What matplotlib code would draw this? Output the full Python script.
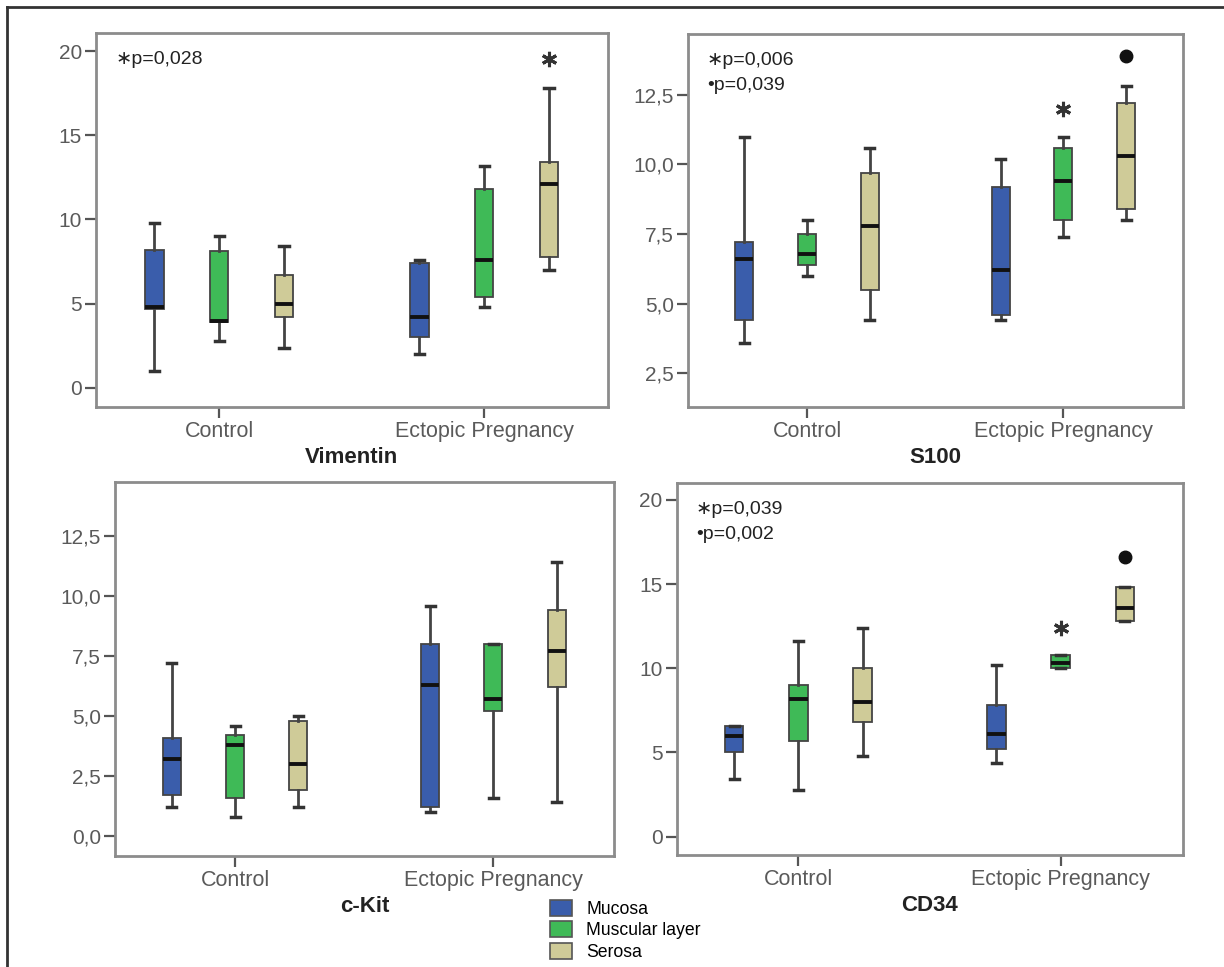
import matplotlib
matplotlib.use("Agg")
import matplotlib.pyplot as plt
from matplotlib.patches import Patch
from matplotlib.lines import Line2D

plt.rcParams['font.family'] = ['Liberation Sans', 'DejaVu Sans']

# ----------------------------
# Data
# order: Control (mucosa, muscular, serosa), Ectopic (mucosa, muscular, serosa)
# ----------------------------
groups = ["Control", "Ectopic Pregnancy"]
layers = ["Mucosa", "Muscular layer", "Serosa"]
layer_colors = ["#3a5dab", "#3fba57", "#cfcb98"]

vim_lo = [1.0, 2.8, 2.4, 2.0, 4.8, 7.0]
vim_q1 = [4.7, 3.9, 4.2, 3.0, 5.4, 7.8]
vim_med = [4.8, 4.0, 5.0, 4.2, 7.6, 12.1]
vim_q3 = [8.2, 8.1, 6.7, 7.4, 11.8, 13.4]
vim_hi = [9.8, 9.0, 8.4, 7.6, 13.2, 17.8]

s100_lo = [3.6, 6.0, 4.4, 4.4, 7.4, 8.0]
s100_q1 = [4.4, 6.4, 5.5, 4.6, 8.0, 8.4]
s100_med = [6.6, 6.8, 7.8, 6.2, 9.4, 10.3]
s100_q3 = [7.2, 7.5, 9.7, 9.2, 10.6, 12.2]
s100_hi = [11.0, 8.0, 10.6, 10.2, 11.0, 12.8]

ckit_lo = [1.2, 0.8, 1.2, 1.0, 1.6, 1.4]
ckit_q1 = [1.7, 1.6, 1.9, 1.2, 5.2, 6.2]
ckit_med = [3.2, 3.8, 3.0, 6.3, 5.7, 7.7]
ckit_q3 = [4.1, 4.2, 4.8, 8.0, 8.0, 9.4]
ckit_hi = [7.2, 4.6, 5.0, 9.6, 8.0, 11.4]

cd34_lo = [3.4, 2.8, 4.8, 4.4, 10.0, 12.8]
cd34_q1 = [5.0, 5.7, 6.8, 5.2, 10.0, 12.8]
cd34_med = [6.0, 8.2, 8.0, 6.1, 10.3, 13.6]
cd34_q3 = [6.6, 9.0, 10.0, 7.8, 10.8, 14.8]
cd34_hi = [6.6, 11.6, 12.4, 10.2, 10.8, 14.8]

# significance marks: (box index, y value)
vim_star = [(5, 19.5)]
vim_dot = []
s100_star = [(4, 12.0)]
s100_dot = [(5, 13.9)]
ckit_star = []
ckit_dot = []
cd34_star = [(4, 12.4)]
cd34_dot = [(5, 16.6)]

vim_ptext = ["\u2217p=0,028"]
s100_ptext = ["\u2217p=0,006", "\u2022p=0,039"]
ckit_ptext = []
cd34_ptext = ["\u2217p=0,039", "\u2022p=0,002"]

vim_ticks = [0, 5, 10, 15, 20]
vim_ticklabels = ["0", "5", "10", "15", "20"]
s100_ticks = [2.5, 5.0, 7.5, 10.0, 12.5]
s100_ticklabels = ["2,5", "5,0", "7,5", "10,0", "12,5"]
ckit_ticks = [0.0, 2.5, 5.0, 7.5, 10.0, 12.5]
ckit_ticklabels = ["0,0", "2,5", "5,0", "7,5", "10,0", "12,5"]
cd34_ticks = [0, 5, 10, 15, 20]
cd34_ticklabels = ["0", "5", "10", "15", "20"]

offsets = [-0.245, 0.0, 0.245]
box_w = 0.07
frame_col = "#8c8c8c"
text_col = "#5a5a5a"


def draw_panel(ax, title, lo, q1, med, q3, hi, ylim, ticks, ticklabels,
               stars, dots, ptext):
    stats = []
    pos = []
    cols = []
    for i in range(6):
        g, l = divmod(i, 3)
        stats.append({"whislo": lo[i], "q1": q1[i], "med": med[i],
                      "q3": q3[i], "whishi": hi[i], "fliers": []})
        pos.append(g + offsets[l])
        cols.append(layer_colors[l])
    bp = ax.bxp(stats, positions=pos, widths=box_w, patch_artist=True,
                showfliers=False, capwidths=0.035,
                boxprops=dict(edgecolor="#444444", linewidth=1.3),
                whiskerprops=dict(color="#444444", linewidth=2.0),
                capprops=dict(color="#333333", linewidth=2.5),
                medianprops=dict(color="#111111", linewidth=2.8))
    for patch, c in zip(bp["boxes"], cols):
        patch.set_facecolor(c)

    for idx, y in stars:
        g, l = divmod(idx, 3)
        ax.plot(g + offsets[l], y, marker=(6, 2, 0), markersize=11,
                markeredgewidth=2.2, color="#333333")
    for idx, y in dots:
        g, l = divmod(idx, 3)
        ax.plot(g + offsets[l], y, marker="o", markersize=9, color="#111111")

    for k, t in enumerate(ptext):
        ax.text(0.038, 0.928 - k * 0.067, t, transform=ax.transAxes,
                fontsize=14, color="#222222", va="center", ha="left")

    ax.set_xlim(-0.465, 1.467)
    ax.set_ylim(*ylim)
    ax.set_xticks([0, 1])
    ax.set_xticklabels(groups, fontsize=15.5, color=text_col)
    ax.set_yticks(ticks)
    ax.set_yticklabels(ticklabels, fontsize=15, color=text_col)
    ax.tick_params(axis="both", direction="out", length=8, width=1.6,
                   color="#555555", pad=2)
    for sp in ax.spines.values():
        sp.set_color(frame_col)
        sp.set_linewidth(2.0)
    ax.set_xlabel(title, fontsize=16, fontweight="bold", color="#222222",
                  labelpad=4)


fig = plt.figure(figsize=(12.24, 9.67), dpi=100)

ax1 = fig.add_axes([0.0784, 0.5791, 0.4183, 0.3868])
ax2 = fig.add_axes([0.5621, 0.5791, 0.4044, 0.3857])
ax3 = fig.add_axes([0.0940, 0.1148, 0.4077, 0.3868])
ax4 = fig.add_axes([0.5527, 0.1158, 0.4138, 0.3847])

draw_panel(ax1, "Vimentin", vim_lo, vim_q1, vim_med, vim_q3, vim_hi,
           (-1.13, 21.07), vim_ticks, vim_ticklabels, vim_star, vim_dot, vim_ptext)
draw_panel(ax2, "S100", s100_lo, s100_q1, s100_med, s100_q3, s100_hi,
           (1.29, 14.68), s100_ticks, s100_ticklabels, s100_star, s100_dot, s100_ptext)
draw_panel(ax3, "c-Kit", ckit_lo, ckit_q1, ckit_med, ckit_q3, ckit_hi,
           (-0.83, 14.75), ckit_ticks, ckit_ticklabels, ckit_star, ckit_dot, ckit_ptext)
draw_panel(ax4, "CD34", cd34_lo, cd34_q1, cd34_med, cd34_q3, cd34_hi,
           (-1.09, 21.0), cd34_ticks, cd34_ticklabels, cd34_star, cd34_dot, cd34_ptext)

# Legend
handles = [Patch(facecolor=c, edgecolor="#555555", linewidth=1.2) for c in layer_colors]
fig.legend(handles, layers, loc="upper left", bbox_to_anchor=(550 / 1224, 1 - 900 / 967),
           frameon=False, fontsize=12.7, handlelength=1.25, handleheight=1.0,
           handletextpad=0.8, labelspacing=0.2, borderpad=0, borderaxespad=0)

# outer frame (left and top edges only)
fig.add_artist(Line2D([7 / 1224, 7 / 1224], [0, 1 - 7 / 967], color="#333333", linewidth=2))
fig.add_artist(Line2D([7 / 1224, 1], [1 - 7 / 967, 1 - 7 / 967], color="#333333", linewidth=2))

fig.savefig("out.png", dpi=100, facecolor="white")
